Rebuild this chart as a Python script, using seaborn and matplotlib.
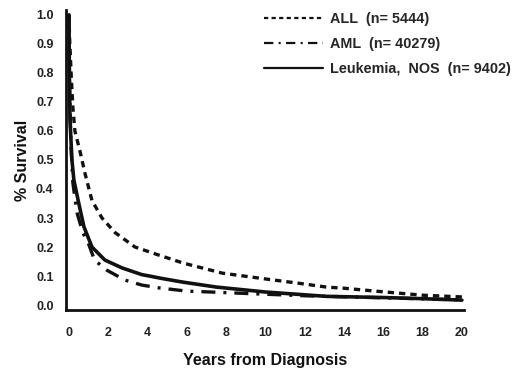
import matplotlib
matplotlib.use("Agg")
import matplotlib.pyplot as plt
import seaborn as sns
import pandas as pd

# Data
all_t = [0, 0.03, 0.12, 0.2, 0.3, 0.56, 0.81, 1.17, 1.68, 2.34, 3.36, 4.1, 4.58, 5.8, 7.8, 10.0, 11.6, 13.1, 14.0, 15.6, 18.0, 20.0]
all_s = [1.0, 0.92, 0.78, 0.68, 0.6, 0.53, 0.455, 0.36, 0.30, 0.25, 0.20, 0.183, 0.172, 0.145, 0.11, 0.09, 0.076, 0.062, 0.058, 0.048, 0.034, 0.028]

aml_t = [0, 0.03, 0.1, 0.2, 0.4, 0.7, 1.0, 1.3, 1.93, 2.85, 3.7, 4.6, 6.0, 7.2, 9.0, 12.0, 16.0, 20.0]
aml_s = [1.0, 0.75, 0.55, 0.42, 0.32, 0.25, 0.21, 0.155, 0.12, 0.086, 0.069, 0.059, 0.048, 0.045, 0.04, 0.032, 0.025, 0.018]

nos_t = [0, 0.02, 0.05, 0.15, 0.25, 0.5, 0.76, 1.17, 1.83, 2.7, 3.7, 4.1, 4.7, 5.8, 7.5, 10.0, 13.1, 16.0, 18.0, 20.0]
nos_s = [1.0, 0.8, 0.64, 0.5, 0.43, 0.35, 0.27, 0.20, 0.155, 0.128, 0.105, 0.1, 0.092, 0.079, 0.062, 0.045, 0.03, 0.026, 0.022, 0.017]

labels = ["ALL  (n= 5444)", "AML  (n= 40279)", "Leukemia,  NOS  (n= 9402)"]
xticks = list(range(0, 21, 2))
yticks = [0.0, 0.1, 0.2, 0.3, 0.4, 0.5, 0.6, 0.7, 0.8, 0.9, 1.0]

sns.set_theme(style="white")
plt.rcParams['font.family'] = ['Liberation Sans', 'DejaVu Sans']

fig = plt.figure(figsize=(5.2, 3.82), dpi=100)
ax = fig.add_axes([0.127, 0.1885, 0.765, 0.7855])

df_all = pd.DataFrame({"t": all_t, "s": all_s})
df_aml = pd.DataFrame({"t": aml_t, "s": aml_s})
df_nos = pd.DataFrame({"t": nos_t, "s": nos_s})

sns.lineplot(data=df_all, x="t", y="s", ax=ax, color="#111111", lw=2.4,
             label=labels[0], estimator=None)
ax.lines[-1].set_dashes((1.9, 1.5))
sns.lineplot(data=df_aml, x="t", y="s", ax=ax, color="#111111", lw=2.4,
             label=labels[1], estimator=None)
ax.lines[-1].set_dashes((4.2, 2.4, 0.9, 2.4))
sns.lineplot(data=df_nos, x="t", y="s", ax=ax, color="#111111", lw=2.6,
             label=labels[2], estimator=None)

ax.set_xlim(-0.15, 20.1)
ax.set_ylim(-0.017, 1.017)
ax.set_xticks(xticks)
ax.set_xticklabels([str(v) for v in xticks], fontsize=9, fontweight="bold", color="#222222")
ax.set_yticks(yticks)
ax.set_yticklabels([f"{v:.1f}" for v in yticks], fontsize=9, fontweight="bold", color="#222222")
ax.tick_params(axis="x", length=3, color="#bbbbbb", pad=9)
ax.tick_params(axis="y", length=0, pad=9)

for s in ["top", "right"]:
    ax.spines[s].set_visible(False)
for s in ["left", "bottom"]:
    ax.spines[s].set_color("#111111")
    ax.spines[s].set_linewidth(2.0)

ax.set_xlabel("Years from Diagnosis", fontsize=11.5, fontweight="bold", color="#111111", labelpad=10)
ax.set_ylabel("% Survival", fontsize=11.5, fontweight="bold", color="#111111", labelpad=4)

leg = ax.legend(loc="upper right", bbox_to_anchor=(1.15, 1.035), frameon=False,
                handlelength=4.1, handletextpad=0.45, labelspacing=0.75,
                prop={"weight": "bold", "size": 10.4})
for line in leg.get_lines():
    line.set_linewidth(1.6)

fig.savefig("out.png", dpi=100)
